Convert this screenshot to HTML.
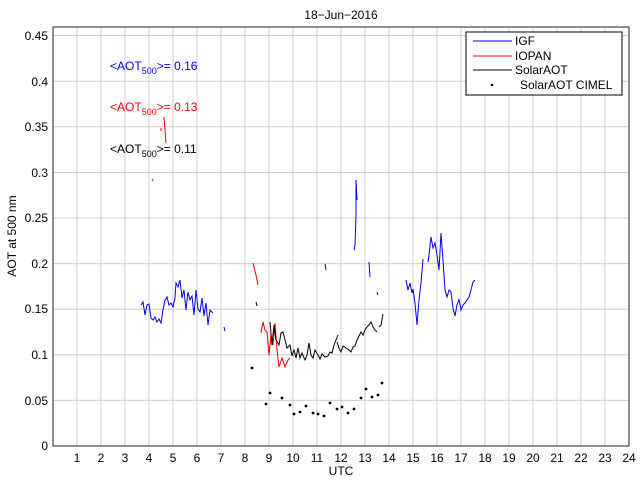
<!DOCTYPE html><html><head><style>body{margin:0;background:#fff}svg{display:block;font-family:"Liberation Sans",sans-serif}</style></head><body>
<svg width="640" height="480" xmlns="http://www.w3.org/2000/svg">
<rect width="640" height="480" fill="#fff"/>
<g stroke="#ccc" stroke-width="1">
<line x1="77" y1="27" x2="77" y2="446"/><line x1="101" y1="27" x2="101" y2="446"/><line x1="125" y1="27" x2="125" y2="446"/><line x1="149" y1="27" x2="149" y2="446"/><line x1="173" y1="27" x2="173" y2="446"/><line x1="197" y1="27" x2="197" y2="446"/><line x1="221" y1="27" x2="221" y2="446"/><line x1="245" y1="27" x2="245" y2="446"/><line x1="269" y1="27" x2="269" y2="446"/><line x1="293" y1="27" x2="293" y2="446"/><line x1="317" y1="27" x2="317" y2="446"/><line x1="341" y1="27" x2="341" y2="446"/><line x1="365" y1="27" x2="365" y2="446"/><line x1="389" y1="27" x2="389" y2="446"/><line x1="413" y1="27" x2="413" y2="446"/><line x1="437" y1="27" x2="437" y2="446"/><line x1="461" y1="27" x2="461" y2="446"/><line x1="485" y1="27" x2="485" y2="446"/><line x1="509" y1="27" x2="509" y2="446"/><line x1="533" y1="27" x2="533" y2="446"/><line x1="557" y1="27" x2="557" y2="446"/><line x1="581" y1="27" x2="581" y2="446"/><line x1="605" y1="27" x2="605" y2="446"/>
<line x1="53" y1="400.4" x2="629" y2="400.4"/><line x1="53" y1="354.8" x2="629" y2="354.8"/><line x1="53" y1="309.2" x2="629" y2="309.2"/><line x1="53" y1="263.6" x2="629" y2="263.6"/><line x1="53" y1="218" x2="629" y2="218"/><line x1="53" y1="172.4" x2="629" y2="172.4"/><line x1="53" y1="126.8" x2="629" y2="126.8"/><line x1="53" y1="81.2" x2="629" y2="81.2"/><line x1="53" y1="35.6" x2="629" y2="35.6"/>
</g>
<rect x="53" y="27" width="576" height="419" fill="none" stroke="#222" stroke-width="1"/>
<g font-size="12" fill="#000" text-anchor="end">
<text x="48" y="450">0</text><text x="48" y="405">0.05</text><text x="48" y="359">0.1</text><text x="48" y="313">0.15</text><text x="48" y="268">0.2</text><text x="48" y="222">0.25</text><text x="48" y="177">0.3</text><text x="48" y="131">0.35</text><text x="48" y="86">0.4</text><text x="48" y="40">0.45</text>
</g>
<g font-size="12" fill="#000" text-anchor="middle">
<text x="77" y="462">1</text><text x="101" y="462">2</text><text x="125" y="462">3</text><text x="149" y="462">4</text><text x="173" y="462">5</text><text x="197" y="462">6</text><text x="221" y="462">7</text><text x="245" y="462">8</text><text x="269" y="462">9</text><text x="293" y="462">10</text><text x="317" y="462">11</text><text x="341" y="462">12</text><text x="365" y="462">13</text><text x="389" y="462">14</text><text x="413" y="462">15</text><text x="437" y="462">16</text><text x="461" y="462">17</text><text x="485" y="462">18</text><text x="509" y="462">19</text><text x="533" y="462">20</text><text x="557" y="462">21</text><text x="581" y="462">22</text><text x="605" y="462">23</text><text x="629" y="462">24</text>
<text x="341" y="475">UTC</text>
<text x="341" y="19">18−Jun−2016</text>
</g>
<text x="16" y="236" font-size="12" text-anchor="middle" transform="rotate(-90 16 236)">AOT at 500 nm</text>
<g font-size="12">
<text x="110" y="70" fill="#00f">&lt;AOT<tspan font-size="9" dy="4">500</tspan><tspan dy="-4">&gt;= 0.16</tspan></text>
<text x="110" y="111" fill="#f00">&lt;AOT<tspan font-size="9" dy="4">500</tspan><tspan dy="-4">&gt;= 0.13</tspan></text>
<text x="110" y="153" fill="#000">&lt;AOT<tspan font-size="9" dy="4">500</tspan><tspan dy="-4">&gt;= 0.11</tspan></text>
</g>
<g fill="none" stroke-width="1">
<polyline stroke="#f00" points="164,117 166,143"/><line stroke="#f00" x1="161" y1="128" x2="161" y2="131"/><line stroke="#f00" x1="152" y1="179" x2="153" y2="181"/>
<polyline stroke="#00f" points="141,305 143,302 145,315 147,305 149,304 151,318 153,320 155,317 157,322 159,319 161,323 163,310 165,300 167,297 169,305 171,303 173,307 175,298 176,283 178,287 180,280 182,298 184,290 186,310 188,292 190,300 192,296 194,315 196,290 198,309 200,312 202,298 204,316 206,303 208,325 210,310 213,313"/>
<polyline stroke="#00f" points="224,327 225,331"/>
<polyline stroke="#f00" points="253,263 256,275 258,285"/>
<polyline stroke="#f00" points="261,333 263,322 265,330 267,332 269,355 271,335 273,345 275,323 277,350 279,367 282,358 285,367 288,360 290,358"/>
<polyline stroke="#000" points="256,302 257,306"/>
<polyline stroke="#000" points="270,322 272,345 274,325 276,340 279,345 281,333 283,332 285,340 287,348 290,345 292,356 294,350 296,358 298,348 300,358 302,353 305,360 307,355 309,343 311,355 313,358 315,350 318,355 320,359 322,354 325,357 328,356 330,352 332,353 334,345 336,340 338,335"/>
<polyline stroke="#000" points="337,342 339,348 341,352 343,346 346,348 349,350 351,352 353,347 355,346 357,340 359,336 361,332 363,335 365,330 367,327 369,325 371,322 373,327 375,330 377,332"/>
<polyline stroke="#000" points="379,327 381,325 383,314"/>
<polyline stroke="#00f" points="354,250 355,245 356,215 356,180 357,200"/>
<polyline stroke="#00f" points="325,264 326,270"/><polyline stroke="#00f" points="369,262 370,277"/><polyline stroke="#00f" points="377,292 378,295"/>
<polyline stroke="#00f" points="406,280 408,290 410,283 412,293 413,289 415,303 417,325 419,300 421,283 423,259"/>
<polyline stroke="#00f" points="428,262 429,255 431,237 433,248 435,243 437,255 439,270 440,252 441,233 443,260 445,290 447,297 449,290 451,292 453,308 455,316 457,305 459,299 461,310 463,305 465,303 467,300 469,297 471,290 473,282 475,280"/>
</g>
<g fill="#000">
<circle cx="252" cy="368" r="1.4"/><circle cx="266" cy="404" r="1.4"/><circle cx="270" cy="393" r="1.4"/><circle cx="282" cy="398" r="1.4"/><circle cx="290" cy="405" r="1.4"/><circle cx="294" cy="414" r="1.4"/><circle cx="300" cy="412" r="1.4"/><circle cx="306" cy="406" r="1.4"/><circle cx="313" cy="413" r="1.4"/><circle cx="318" cy="414" r="1.4"/><circle cx="324" cy="416" r="1.4"/><circle cx="330" cy="403" r="1.4"/><circle cx="337" cy="409" r="1.4"/><circle cx="342" cy="407" r="1.4"/><circle cx="348" cy="413" r="1.4"/><circle cx="354" cy="409" r="1.4"/><circle cx="361" cy="398" r="1.4"/><circle cx="366" cy="389" r="1.4"/><circle cx="372" cy="397" r="1.4"/><circle cx="378" cy="395" r="1.4"/><circle cx="382" cy="383" r="1.4"/>
</g>
<rect x="466" y="32" width="156" height="63" fill="#fff" stroke="#000" stroke-width="1"/>
<line x1="473" y1="41" x2="512" y2="41" stroke="#00f"/>
<line x1="473" y1="56" x2="512" y2="56" stroke="#f00"/>
<line x1="473" y1="70" x2="512" y2="70" stroke="#000"/>
<circle cx="492" cy="85" r="1.3" fill="#000"/>
<g font-size="12" fill="#000">
<text x="515" y="45">IGF</text><text x="515" y="60">IOPAN</text><text x="515" y="74">SolarAOT</text><text x="520" y="89">SolarAOT CIMEL</text>
</g>
</svg>
</body></html>
